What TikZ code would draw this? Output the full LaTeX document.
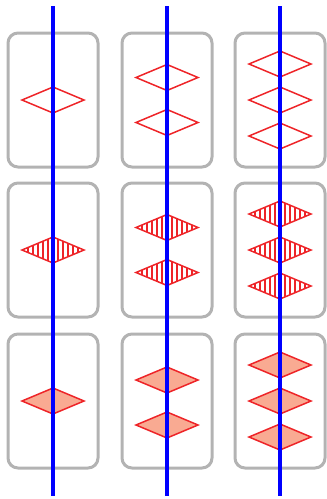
\documentclass[tikz,border=0pt]{standalone}
\usetikzlibrary{calc}
\definecolor{cardgray}{HTML}{B3B3B3}
\definecolor{shapered}{HTML}{EE2428}
\definecolor{shapefill}{HTML}{F9AA92}
\definecolor{axisblue}{HTML}{0000FF}
\tikzset{
  card/.style={draw=cardgray, line width=3pt, rounded corners=10pt},
  outline/.style={draw=shapered, line width=1.5pt, line join=miter},
  solidfill/.style={fill=shapefill},
  stripe/.style={draw=shapered, line width=1.3pt},
  axis/.style={draw=axisblue, line width=3.5pt},
}
% diamond centred at (#1,#2), half width 31, half height 13
\newcommand{\dpath}[2]{(#1-31,#2) -- (#1,#2-13) -- (#1+31,#2) -- (#1,#2+13) -- cycle}
\newcommand{\emptyD}[2]{\draw[outline] \dpath{#1}{#2};}
\newcommand{\solidD}[2]{\draw[outline,solidfill] \dpath{#1}{#2};}
\newcommand{\stripeD}[2]{%
  \begin{scope}
    \clip \dpath{#1}{#2};
    \foreach \k in {-5,...,5} {\draw[stripe] (#1+5*\k,#2-14) -- (#1+5*\k,#2+14);}
  \end{scope}
  \draw[outline] \dpath{#1}{#2};}
\begin{document}
\begin{tikzpicture}[x=1pt,y=-1pt]
\useasboundingbox (0,0) rectangle (327,499);
% cards
\foreach \cx in {53,167,280} {
  \foreach \cy in {100,250,401} {
    \draw[card] (\cx-45,\cy-67) rectangle (\cx+45,\cy+67);
  }
}
% row 1: open diamonds
\emptyD{53}{100}
\emptyD{167}{77.5}
\emptyD{167}{122.5}
\emptyD{280}{64}
\emptyD{280}{100}
\emptyD{280}{136}
% row 2: striped diamonds
\stripeD{53}{250}
\stripeD{167}{227.5}
\stripeD{167}{272.5}
\stripeD{280}{214}
\stripeD{280}{250}
\stripeD{280}{286}
% row 3: filled diamonds
\solidD{53}{401}
\solidD{167}{380}
\solidD{167}{425}
\solidD{280}{365}
\solidD{280}{401}
\solidD{280}{437}
% vertical axes
\coordinate (a1t) at (53,6);   \coordinate (a1b) at (53,496);
\coordinate (a2t) at (167,6);  \coordinate (a2b) at (167,496);
\coordinate (a3t) at (280,6);  \coordinate (a3b) at (280,496);
\draw[axis] (a1t) -- (a1b);
\draw[axis] (a2t) -- (a2b);
\draw[axis] (a3t) -- (a3b);
\end{tikzpicture}
\end{document}
